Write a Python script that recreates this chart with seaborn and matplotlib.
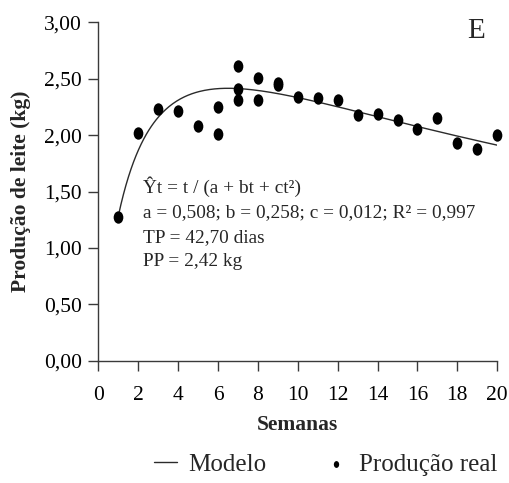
import numpy as np
import pandas as pd
import seaborn as sns
import matplotlib.pyplot as plt
from matplotlib.path import Path
from matplotlib.transforms import Affine2D
from matplotlib.ticker import FuncFormatter

# Produção observada por semana de lactação
semanas = [1, 2, 3, 4, 5, 6, 6, 7, 7, 7, 8, 8, 9, 9, 10, 11, 12,
           13, 14, 15, 16, 17, 18, 19, 20]
producao_real = [1.27, 2.02, 2.23, 2.21, 2.08, 2.25, 2.01, 2.61, 2.41, 2.31,
                 2.51, 2.31, 2.44, 2.46, 2.34, 2.33, 2.31, 2.18, 2.19, 2.13,
                 2.05, 2.15, 1.93, 1.88, 2.00]

# Parâmetros ajustados: Yt = t / (a + b t + c t²)
a, b, c = 0.508, 0.258, 0.012
r2 = 0.997
tp_dias = 42.70
pp_kg = 2.42

xticks = list(range(0, 21, 2))
yticks = [0.0, 0.5, 1.0, 1.5, 2.0, 2.5, 3.0]

sns.set_style("ticks")
plt.rcParams["font.family"] = ["Liberation Serif", "DejaVu Serif"]

def virgula(v, _pos=None):
    return f"{v:.2f}".replace(".", ",")

fig, ax = plt.subplots(figsize=(5.1, 4.83), dpi=100)
fig.subplots_adjust(left=0.193, right=0.975, top=0.954, bottom=0.253)

t_modelo = np.linspace(1, 20, 300)
df_modelo = pd.DataFrame({"t": t_modelo,
                          "y": t_modelo / (a + b * t_modelo + c * t_modelo ** 2)})
df_real = pd.DataFrame({"t": semanas, "y": producao_real})

sns.lineplot(data=df_modelo, x="t", y="y", ax=ax, color="#2b2b2b",
             linewidth=1.0, label="Modelo")

# marcador levemente elíptico
elipse = Path.unit_circle().transformed(Affine2D().scale(0.78, 1.0))
sns.scatterplot(data=df_real, x="t", y="y", ax=ax, marker=elipse, s=80,
                color="black", edgecolor="black", linewidth=0,
                label="Produção real", clip_on=False, zorder=3)

ax.set_xlim(0, 20)
ax.set_ylim(0, 3.0)
ax.set_xticks(xticks)
ax.set_yticks(yticks)
ax.yaxis.set_major_formatter(FuncFormatter(virgula))
sns.despine(ax=ax)
for s in ("left", "bottom"):
    ax.spines[s].set_color("#3a3a3a")
    ax.spines[s].set_linewidth(1.0)
ax.tick_params(axis="both", direction="out", length=7, width=1.0,
               color="#3a3a3a", labelsize=15.5, labelcolor="black")
ax.tick_params(axis="x", pad=11)
ax.tick_params(axis="y", pad=5)

ax.set_xlabel("Semanas", fontsize=15.5, fontweight="bold", labelpad=7)
ax.set_ylabel("Produção de leite (kg)", fontsize=15.5, fontweight="bold",
              labelpad=9)

ax.text(0.97, 1.012, "E", transform=ax.transAxes, ha="right", va="top",
        fontsize=21)

linhas = [
    "Ŷt = t / (a + bt + ct²)",
    f"a = {a:.3f}; b = {b:.3f}; c = {c:.3f}; R² = {r2:.3f}".replace(".", ","),
    f"TP = {tp_dias:.2f} dias".replace(".", ","),
    f"PP = {pp_kg:.2f} kg".replace(".", ","),
]
for i, txt in enumerate(linhas):
    ax.text(0.112, 0.495 - i * 0.072, txt, transform=ax.transAxes,
            ha="left", va="baseline", fontsize=13.9)

handles, labels = ax.get_legend_handles_labels()
ax.get_legend().remove()
fig.legend(handles, labels, loc="lower center", bbox_to_anchor=(0.638, -0.032),
           ncol=2, frameon=False, fontsize=18, markerscale=0.55,
           handlelength=0.92, handletextpad=0.45, columnspacing=2.35)

fig.savefig("out.png", dpi=100)
